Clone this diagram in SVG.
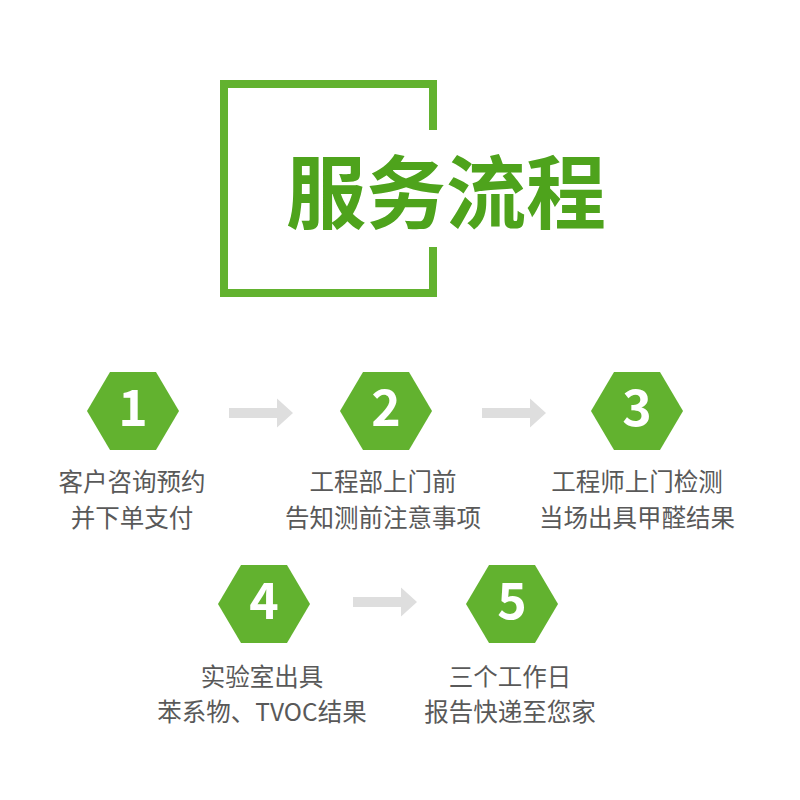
<svg xmlns="http://www.w3.org/2000/svg" width="800" height="800" viewBox="0 0 800 800">
<style>
.frame{fill:none;stroke:#62b22f;stroke-width:8}
.hex{fill:#62b22f}
.num{font-family:"Noto Sans CJK SC","Open Sans",sans-serif;font-weight:bold;font-size:50px;fill:#fff;text-anchor:middle}
.lbl{font-family:"Noto Sans CJK SC","Noto Sans",sans-serif;font-size:24.5px;fill:#595959;text-anchor:middle}
.title{font-family:"Noto Sans CJK SC",sans-serif;font-weight:bold;font-size:80px;fill:#4ea31c}
.arr{fill:#dedede}
</style>
<defs>
<polygon id="hexShape" points="-46,0 -23,-39 23,-39 46,0 23,39 -23,39"/>
<path id="arrShape" d="M0,-5 H48 V-14.5 L64,0 L48,14.5 V5 H0 Z"/>
</defs>
<g id="title">
<path class="frame" d="M433,130 V84 H224 V293 H433 V247"/>
<text class="title" x="446" y="222" text-anchor="middle">服务流程</text>
</g>
<g id="connectors">
<use href="#arrShape" class="arr" x="229" y="413"/>
<use href="#arrShape" class="arr" x="482" y="413"/>
<use href="#arrShape" class="arr" x="353" y="602"/>
</g>
<g id="step1">
<use href="#hexShape" class="hex" x="133" y="411"/>
<text class="num" x="133" y="426">1</text>
<text class="lbl" x="132" y="491">客户咨询预约</text>
<text class="lbl" x="132" y="527">并下单支付</text>
</g>
<g id="step2">
<use href="#hexShape" class="hex" x="386" y="411"/>
<text class="num" x="386" y="426">2</text>
<text class="lbl" x="383" y="491">工程部上门前</text>
<text class="lbl" x="383" y="527">告知测前注意事项</text>
</g>
<g id="step3">
<use href="#hexShape" class="hex" x="637" y="411"/>
<text class="num" x="637" y="426">3</text>
<text class="lbl" x="637" y="491">工程师上门检测</text>
<text class="lbl" x="637" y="527">当场出具甲醛结果</text>
</g>
<g id="step4">
<use href="#hexShape" class="hex" x="264" y="604"/>
<text class="num" x="264" y="619">4</text>
<text class="lbl" x="262" y="686">实验室出具</text>
<text class="lbl" x="262" y="721">苯系物、TVOC结果</text>
</g>
<g id="step5">
<use href="#hexShape" class="hex" x="512" y="604"/>
<text class="num" x="512" y="619">5</text>
<text class="lbl" x="510" y="686">三个工作日</text>
<text class="lbl" x="510" y="721">报告快递至您家</text>
</g>
</svg>
